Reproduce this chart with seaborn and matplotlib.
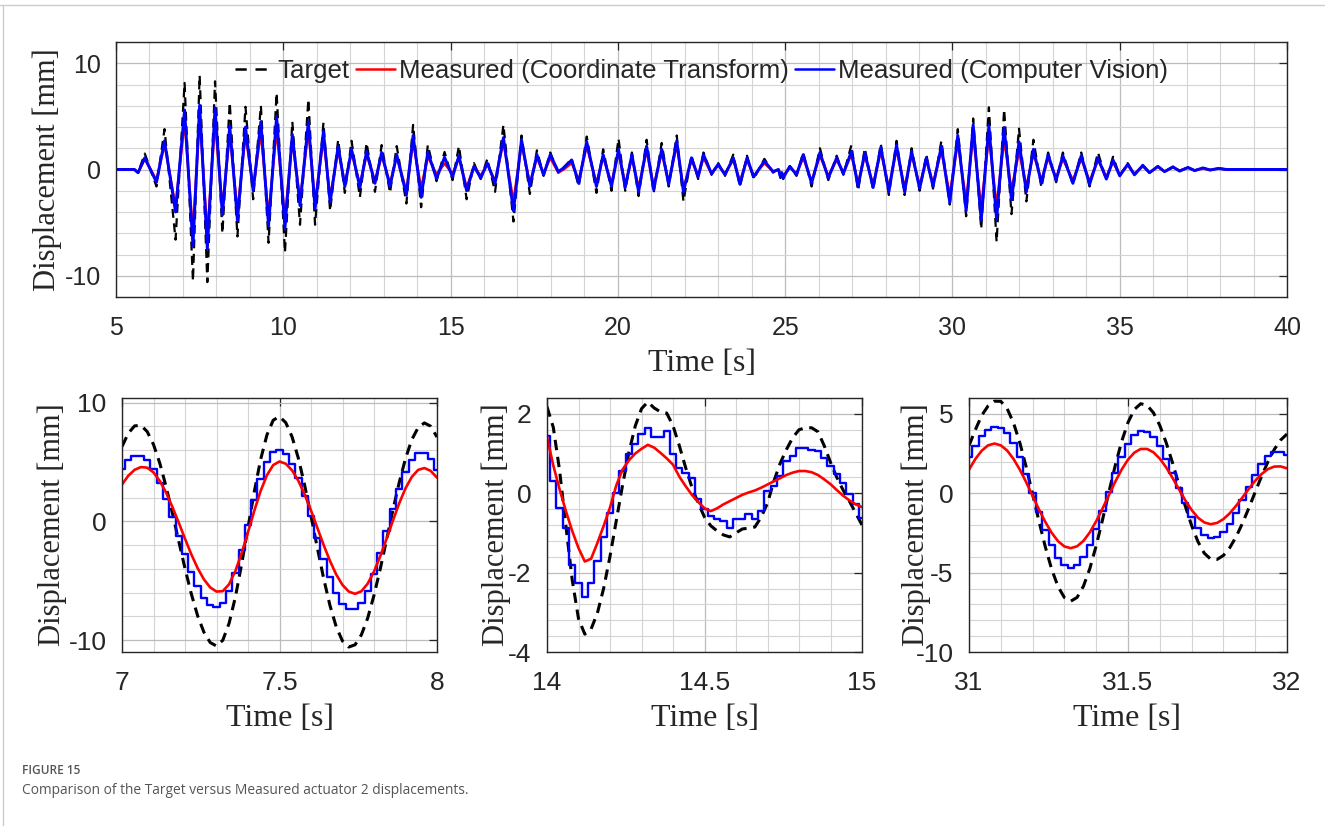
import numpy as np
import matplotlib
matplotlib.use("Agg")
import matplotlib.pyplot as plt
import seaborn as sns
from matplotlib.ticker import MultipleLocator
from matplotlib.lines import Line2D

# ---------------- data ----------------
# full record: turning points of the three signals (time in s, displacement in mm)
top_time = [5.0, 5.55, 5.66, 5.86, 6.21, 6.45, 6.78, 7.05, 7.30, 7.50,
            7.73, 7.96, 8.18, 8.40, 8.63, 8.87, 9.10, 9.33, 9.56, 9.80,
            10.05, 10.27, 10.50, 10.75, 10.95, 11.20, 11.40, 11.64, 11.84, 12.04,
            12.29, 12.49, 12.74, 12.94, 13.19, 13.39, 13.68, 13.88, 14.12, 14.32,
            14.58, 14.82, 15.06, 15.25, 15.48, 15.70, 15.90, 16.10, 16.33, 16.58,
            16.88, 17.12, 17.37, 17.58, 17.78, 17.98, 18.22, 18.38, 18.62, 18.83,
            19.07, 19.36, 19.56, 19.81, 20.02, 20.22, 20.42, 20.62, 20.86, 21.07,
            21.31, 21.52, 21.76, 21.96, 22.20, 22.40, 22.56, 22.80, 23.00, 23.20,
            23.45, 23.65, 23.86, 24.06, 24.38, 24.64, 24.80, 24.86, 24.90, 24.94,
            25.14, 25.34, 25.54, 25.79, 26.04, 26.29, 26.54, 26.74, 26.98, 27.18,
            27.38, 27.63, 27.86, 28.10, 28.33, 28.57, 28.78, 29.02, 29.22, 29.42,
            29.67, 29.92, 30.16, 30.41, 30.62, 30.86, 31.09, 31.32, 31.545, 31.765,
            31.99, 32.21, 32.42, 32.66, 32.86, 33.10, 33.30, 33.60, 33.85, 34.10,
            34.35, 34.60, 34.80, 35.00, 35.24, 35.44, 35.69, 35.89, 36.14, 36.34,
            36.59, 36.79, 37.04, 37.24, 37.49, 37.70, 37.95, 38.20, 40.0]
top_target = [0, 0, -0.3, 1.5, -1.6, 3.8, -6.6, 8.15, -10.5, 8.85,
              -10.6, 8.3, -6.0, 6.3, -6.3, 5.9, -2.8, 6.0, -6.9, 7.2,
              -7.8, 4.5, -5.2, 6.6, -5.2, 4.4, -3.9, 2.8, -2.2, 2.7,
              -2.6, 2.5, -2.1, 2.3, -2.2, 2.2, -3.2, 4.2, -3.55, 2.3,
              -1.1, 1.65, -1.0, 2.2, -2.8, 0.6, -0.9, 1.0, -2.1, 4.2,
              -4.9, 3.2, -2.3, 1.8, -0.6, 1.6, -0.3, 0.2, 1.0, -1.6,
              3.1, -2.2, 1.9, -2.0, 2.9, -2.0, 1.6, -2.5, 2.8, -2.2,
              2.5, -1.6, 3.2, -3.0, 1.3, -0.9, 1.6, -0.5, 0.6, -0.6,
              1.4, -1.6, 1.3, -0.9, 1.0, -0.3, 0.1, -0.8, -0.3, -0.9,
              0.3, -0.6, 1.6, -1.6, 2.0, -1.0, 1.3, -0.5, 2.3, -2.0,
              2.0, -1.9, 2.4, -2.4, 2.7, -2.4, 2.0, -2.0, 1.4, -1.8,
              2.7, -3.3, 3.8, -4.4, 4.8, -5.6, 5.85, -6.8, 5.65, -4.2,
              3.85, -3.0, 2.8, -1.7, 1.6, -1.2, 1.6, -1.4, 1.6, -1.6,
              1.6, -1.0, 1.2, -0.6, 0.6, -0.5, 0.4, -0.3, 0.3, -0.2,
              0.25, -0.15, 0.2, -0.1, 0.15, -0.05, 0.1, 0, 0]
top_cv = [0, 0, -0.3, 1.1, -1.2, 2.7, -4.0, 5.6, -7.2, 6.05,
          -7.45, 5.8, -4.3, 4.1, -4.8, 4.0, -2.0, 4.5, -5.3, 5.0,
          -5.5, 3.3, -3.4, 4.5, -3.7, 3.6, -3.1, 2.2, -1.6, 1.9,
          -1.7, 1.7, -1.3, 1.6, -1.6, 1.4, -2.4, 3.2, -2.62, 1.65,
          -0.87, 1.15, -0.7, 1.3, -2.0, 0.3, -0.8, 0.6, -1.3, 3.0,
          -3.9, 2.8, -1.6, 1.4, -0.5, 1.4, -0.2, 0.15, 0.9, -1.3,
          2.6, -1.6, 1.4, -1.6, 1.9, -1.7, 1.4, -2.1, 2.2, -1.9,
          1.9, -1.4, 2.7, -2.1, 1.1, -0.7, 1.4, -0.4, 0.5, -0.5,
          1.1, -1.4, 1.1, -0.7, 0.8, -0.2, 0.0, -0.7, -0.3, -0.8,
          0.3, -0.5, 1.4, -1.3, 1.6, -0.8, 1.1, -0.4, 1.7, -1.6,
          1.6, -1.7, 2.1, -2.1, 2.3, -2.1, 1.7, -1.8, 1.1, -1.6,
          2.2, -3.1, 3.2, -3.9, 4.2, -4.8, 4.15, -4.7, 3.95, -2.85,
          2.6, -2.1, 1.9, -1.3, 1.4, -1.0, 1.3, -1.3, 1.3, -1.4,
          1.1, -0.9, 0.9, -0.6, 0.5, -0.5, 0.4, -0.3, 0.3, -0.2,
          0.25, -0.15, 0.2, -0.1, 0.15, -0.05, 0.1, 0, 0]
top_ct = [0, 0, -0.3, 1.0, -1.0, 2.4, -3.5, 4.6, -5.95, 5.05,
          -6.1, 4.5, -3.6, 3.4, -4.0, 3.3, -1.7, 3.5, -4.4, 3.8,
          -4.6, 2.8, -2.9, 3.7, -3.1, 2.9, -2.6, 1.8, -1.3, 1.6,
          -1.4, 1.4, -1.1, 1.3, -1.3, 1.2, -2.0, 2.6, -1.75, 1.22,
          -0.45, 0.56, -0.4, 1.1, -1.7, 0.3, -0.6, 0.5, -1.1, 2.6,
          -3.0, 2.4, -1.3, 1.1, -0.4, 1.1, -0.3, 0.0, 0.6, -1.0,
          2.2, -1.3, 1.2, -1.3, 1.6, -1.4, 1.1, -1.7, 1.8, -1.6,
          1.6, -1.2, 2.3, -1.8, 0.9, -0.6, 1.1, -0.4, 0.4, -0.4,
          0.9, -1.1, 0.9, -0.6, 0.6, -0.2, 0.0, -0.5, -0.3, -0.6,
          0.2, -0.4, 1.1, -1.1, 1.3, -0.6, 0.9, -0.3, 1.4, -1.3,
          1.3, -1.4, 1.7, -1.7, 1.9, -1.7, 1.4, -1.5, 0.9, -1.3,
          1.8, -2.4, 2.6, -3.0, 3.2, -3.6, 3.13, -3.46, 2.82, -1.95,
          1.7, -1.6, 1.5, -1.0, 1.1, -0.8, 1.0, -1.0, 1.0, -1.1,
          0.9, -0.7, 0.7, -0.5, 0.4, -0.4, 0.3, -0.3, 0.25, -0.2,
          0.2, -0.1, 0.15, -0.1, 0.1, -0.05, 0.1, 0, 0]

# zoomed windows, read every 0.02 s
win1_time = np.round(7.0 + 0.02 * np.arange(51), 2)
win1_target = [6.31, 7.43, 8.05, 8.10, 7.57, 6.48, 4.90, 2.93, 0.70, -1.65,
               -3.96, -6.10, -7.94, -9.33, -10.20, -10.50, -10.01, -8.58, -6.36, -3.57,
               -0.52, 2.51, 5.21, 7.28, 8.53, 8.84, 8.32, 7.12, 5.31, 3.03,
               0.46, -2.21, -4.78, -7.06, -8.87, -10.08, -10.58, -10.39, -9.55, -8.14,
               -6.22, -3.98, -1.53, 0.96, 3.27, 5.30, 6.89, 7.90, 8.30, 8.02, 7.11]
win1_ct = [3.11, 3.85, 4.35, 4.58, 4.53, 4.13, 3.41, 2.43, 1.22, -0.09,
           -1.46, -2.77, -3.93, -4.88, -5.56, -5.91, -5.87, -5.29, -4.17, -2.66,
           -0.90, 0.90, 2.56, 3.89, 4.75, 5.05, 4.86, 4.30, 3.42, 2.26,
           0.92, -0.53, -1.97, -3.31, -4.47, -5.35, -5.91, -6.10, -5.88, -5.24,
           -4.22, -2.92, -1.46, 0.07, 1.53, 2.79, 3.75, 4.34, 4.50, 4.26, 3.69]
win1_cv = [4.42, 5.17, 5.55, 5.55, 5.15, 4.38, 3.28, 1.93, 0.40, -1.20,
           -2.78, -4.23, -5.47, -6.41, -7.00, -7.20, -6.86, -5.88, -4.34, -2.42,
           -0.31, 1.78, 3.61, 5.02, 5.86, 6.04, 5.68, 4.86, 3.66, 2.14,
           0.43, -1.37, -3.13, -4.70, -6.00, -6.92, -7.39, -7.38, -6.85, -5.83,
           -4.40, -2.69, -0.83, 1.04, 2.75, 4.18, 5.20, 5.73, 5.74, 5.27, 4.37]

win2_time = np.round(14.0 + 0.02 * np.arange(51), 2)
win2_target = [2.18, 1.66, 0.57, -0.82, -2.18, -3.16, -3.55, -3.42, -3.02, -2.39,
               -1.59, -0.69, 0.21, 1.03, 1.69, 2.13, 2.30, 2.15, 2.05, 2.02,
               1.70, 1.20, 0.65, 0.15, -0.25, -0.60, -0.82, -0.95, -1.05, -1.10,
               -1.00, -0.90, -0.88, -0.85, -0.60, -0.25, 0.30, 0.75, 1.10, 1.40,
               1.60, 1.65, 1.65, 1.55, 1.20, 0.78, 0.40, 0.08, -0.20, -0.50, -0.80]
win2_ct = [1.42, 0.70, 0.10, -0.45, -0.95, -1.38, -1.72, -1.65, -1.25, -0.82,
           -0.36, 0.20, 0.60, 0.83, 1.00, 1.12, 1.22, 1.15, 1.02, 0.88,
           0.72, 0.42, 0.18, -0.04, -0.22, -0.38, -0.45, -0.38, -0.28, -0.20,
           -0.12, -0.04, 0.02, 0.07, 0.14, 0.22, 0.30, 0.38, 0.46, 0.52,
           0.56, 0.56, 0.53, 0.46, 0.35, 0.23, 0.08, -0.06, -0.18, -0.28, -0.35]
win2_cv = [1.45, 0.31, -0.36, -0.87, -1.80, -2.25, -2.62, -2.25, -1.70, -1.11,
           -0.50, 0.00, 0.57, 0.99, 1.24, 1.49, 1.65, 1.41, 1.41, 1.57,
           0.98, 0.64, 0.50, 0.39, -0.15, -0.40, -0.57, -0.65, -0.70, -0.87,
           -0.66, -0.66, -0.53, -0.66, -0.45, 0.06, 0.18, 0.44, 0.81, 0.94,
           1.15, 1.15, 1.10, 1.07, 0.90, 0.69, 0.48, 0.27, -0.03, -0.28, -0.62]

win3_time = np.round(31.0 + 0.02 * np.arange(51), 2)
win3_target = [3.00, 4.00, 4.90, 5.50, 5.80, 5.79, 5.33, 4.43, 3.17, 1.64,
               -0.05, -1.76, -3.38, -4.79, -5.88, -6.57, -6.80, -6.56, -5.85, -4.74,
               -3.30, -1.66, 0.08, 1.76, 3.26, 4.46, 5.28, 5.64, 5.54, 5.07,
               4.27, 3.19, 1.92, 0.55, -0.80, -2.03, -3.05, -3.78, -4.15, -4.17,
               -3.92, -3.43, -2.74, -1.89, -0.93, 0.08, 1.07, 1.98, 2.76, 3.35, 3.73]
win3_ct = [1.48, 2.16, 2.68, 3.02, 3.13, 3.02, 2.69, 2.16, 1.48, 0.69,
           -0.17, -1.02, -1.81, -2.49, -3.02, -3.35, -3.46, -3.34, -3.00, -2.46,
           -1.76, -0.96, -0.11, 0.73, 1.49, 2.12, 2.56, 2.79, 2.79, 2.58,
           2.18, 1.63, 0.97, 0.26, -0.44, -1.05, -1.54, -1.84, -1.95, -1.87,
           -1.63, -1.26, -0.79, -0.26, 0.28, 0.79, 1.21, 1.52, 1.68, 1.69, 1.57]
win3_cv = [2.30, 3.00, 3.60, 4.00, 4.15, 4.11, 3.78, 3.16, 2.27, 1.21,
           0.03, -1.17, -2.31, -3.29, -4.05, -4.54, -4.70, -4.53, -4.04, -3.27,
           -2.27, -1.13, 0.08, 1.25, 2.29, 3.12, 3.69, 3.94, 3.87, 3.54,
           2.95, 2.18, 1.27, 0.31, -0.64, -1.49, -2.17, -2.64, -2.84, -2.78,
           -2.47, -1.94, -1.24, -0.44, 0.40, 1.18, 1.84, 2.32, 2.57, 2.58, 2.39]

# ---------------- style ----------------
sns.set_theme(style="white")
plt.rcParams["font.family"] = ["Liberation Sans", "DejaVu Sans"]
plt.rcParams["axes.unicode_minus"] = False

W, H = 1325, 826
fig = plt.figure(figsize=(W / 100, H / 100), dpi=100)
fig.patch.set_facecolor("white")

SERIF = ["Liberation Serif", "DejaVu Serif"]


def px_axes(left, top, right, bottom):
    return fig.add_axes([left / W, 1 - bottom / H, (right - left) / W, (bottom - top) / H])


def style_axes(ax, xmaj, xmin, ymaj, ymin, xlim, ylim, xlabels, fs):
    ax.set_xlim(*xlim)
    ax.set_ylim(*ylim)
    ax.set_xticks(xmaj)
    ax.set_xticklabels(xlabels)
    ax.set_yticks(ymaj)
    ax.set_yticklabels([f"{v:g}" for v in ymaj])
    ax.xaxis.set_minor_locator(MultipleLocator(xmin))
    ax.yaxis.set_minor_locator(MultipleLocator(ymin))
    ax.grid(which="major", color="#bcbcbc", lw=0.9, ls="-")
    ax.grid(which="minor", color="#d4d4d4", lw=0.8, ls="-")
    ax.set_axisbelow(True)
    ax.tick_params(which="major", direction="in", length=6, width=0.9,
                   top=True, right=True, labelsize=fs, colors="#262626")
    ax.tick_params(axis="x", which="major", pad=14)
    ax.tick_params(axis="y", which="major", pad=11)
    ax.tick_params(which="minor", length=0)
    for sp in ax.spines.values():
        sp.set_color("#262626")
        sp.set_linewidth(1.0)
    ax.set_xlabel("")
    ax.set_ylabel("")


# ---------------- top panel ----------------
ax0 = px_axes(116, 42, 1287, 297)
sns.lineplot(x=top_time, y=top_target, ax=ax0, color="black", lw=1.6,
             linestyle=(0, (4, 2.5)), sort=False, solid_joinstyle="round")
sns.lineplot(x=top_time, y=top_ct, ax=ax0, color="#ff0000", lw=1.8, sort=False,
             solid_joinstyle="round")
sns.lineplot(x=top_time, y=top_cv, ax=ax0, color="#0000ff", lw=2.1, sort=False,
             solid_joinstyle="round")
style_axes(ax0, [5, 10, 15, 20, 25, 30, 35, 40], 1, [-10, 0, 10], 2,
           (5, 40), (-12, 12), ["5", "10", "15", "20", "25", "30", "35", "40"], 18)

handles = [Line2D([], [], color="black", lw=1.8, linestyle=(0, (4.5, 3.5))),
           Line2D([], [], color="#ff0000", lw=1.8),
           Line2D([], [], color="#0000ff", lw=1.8)]
leg = ax0.legend(handles, ["Target", "Measured (Coordinate Transform)",
                           "Measured (Computer Vision)"],
                 loc="upper center", bbox_to_anchor=(0.5, 1.0), ncol=3,
                 frameon=False, fontsize=18.6, handlelength=1.5,
                 handletextpad=0.15, columnspacing=0.25, borderaxespad=0.25)

fig.text(47 / W, 1 - 170 / H, "Displacement [mm]", rotation=90, ha="center",
         va="center", fontsize=22, family=SERIF)
fig.text(702 / W, 1 - 364 / H, "Time [s]", ha="center", va="center",
         fontsize=23, family=SERIF)

# ---------------- zoomed panels ----------------
panels = [
    dict(box=(122, 398, 437, 652), t=win1_time, tg=win1_target, ct=win1_ct, cv=win1_cv,
         xmaj=[7, 7.5, 8], xlab=["7", "7.5", "8"], ymaj=[-10, 0, 10], ymin=2,
         ylim=(-11, 10.4), ylx=52, tlx=280),
    dict(box=(547, 398, 862, 652), t=win2_time, tg=win2_target, ct=win2_ct, cv=win2_cv,
         xmaj=[14, 14.5, 15], xlab=["14", "14.5", "15"], ymaj=[-4, -2, 0, 2], ymin=0.4,
         ylim=(-4, 2.4), ylx=496, tlx=705),
    dict(box=(969, 398, 1287, 652), t=win3_time, tg=win3_target, ct=win3_ct, cv=win3_cv,
         xmaj=[31, 31.5, 32], xlab=["31", "31.5", "32"], ymaj=[-10, -5, 0, 5], ymin=1,
         ylim=(-10, 6), ylx=916, tlx=1127),
]

for p in panels:
    ax = px_axes(*p["box"])
    sns.lineplot(x=p["t"], y=p["tg"], ax=ax, color="black", lw=2.2,
                 linestyle=(0, (3.4, 2.2)), sort=False)
    sns.lineplot(x=p["t"], y=p["cv"], ax=ax, color="#0000ff", lw=1.7,
                 drawstyle="steps-mid", sort=False)
    sns.lineplot(x=p["t"], y=p["ct"], ax=ax, color="#ff0000", lw=1.9, sort=False)
    x0 = p["xmaj"][0]
    style_axes(ax, p["xmaj"], 0.1, p["ymaj"], p["ymin"], (x0, x0 + 1), p["ylim"],
               p["xlab"], 19)
    fig.text(p["ylx"] / W, 1 - 525 / H, "Displacement [mm]", rotation=90,
             ha="center", va="center", fontsize=22, family=SERIF)
    fig.text(p["tlx"] / W, 1 - 719 / H, "Time [s]", ha="center", va="center",
             fontsize=23, family=SERIF)

# ---------------- caption and page frame ----------------
fig.add_artist(Line2D([0, 1], [1 - 5 / H, 1 - 5 / H], color="#cccccc", lw=1.0))
fig.add_artist(Line2D([3 / W, 3 / W], [0, 1 - 5 / H], color="#cccccc", lw=1.0))
fig.text(22 / W, 1 - 771 / H, "FIGURE 15", fontsize=8.6, color="#555555",
         family=["Open Sans", "DejaVu Sans"], weight="semibold", va="center")
fig.text(22 / W, 1 - 791 / H,
         "Comparison of the Target versus Measured actuator 2 displacements.",
         fontsize=9.9, color="#555555", family=["Open Sans", "DejaVu Sans"], va="center")

fig.savefig("out.png", dpi=100)
